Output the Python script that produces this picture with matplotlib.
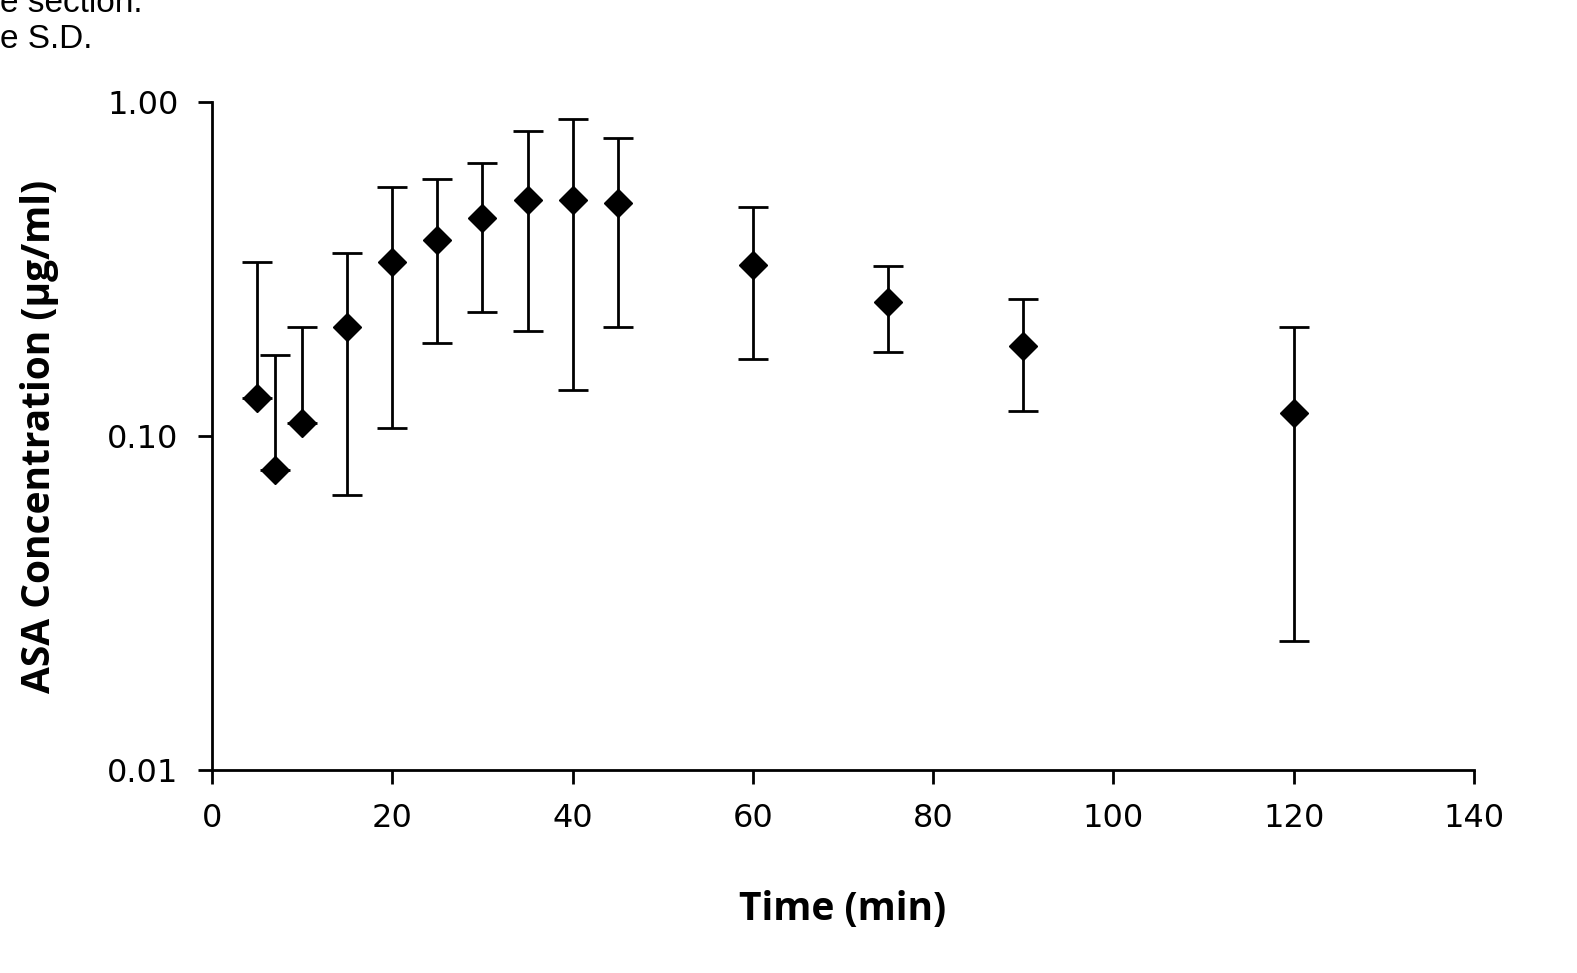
import matplotlib
matplotlib.use("Agg")
import matplotlib.pyplot as plt
import numpy as np

time = [5, 7, 10, 15, 20, 25, 30, 35, 40, 45, 60, 75, 90, 120]
conc = [0.130, 0.079, 0.109, 0.212, 0.332, 0.386, 0.450, 0.509, 0.509, 0.499, 0.325, 0.252, 0.186, 0.117]
upper = [0.332, 0.175, 0.212, 0.353, 0.557, 0.588, 0.657, 0.819, 0.889, 0.780, 0.485, 0.323, 0.257, 0.212]
lower = [None, None, None, 0.0666, 0.106, 0.190, 0.235, 0.206, 0.137, 0.212, 0.170, 0.178, 0.119, 0.0243]

c = np.array(conc)
err_hi = np.array(upper) - c
err_lo = np.array([v - l if l is not None else 0 for v, l in zip(conc, lower)])

fig = plt.figure(figsize=(15.77, 9.73), dpi=100)
ax = fig.add_axes([212 / 1577, 1 - 770 / 973, (1474 - 212) / 1577, (770 - 102) / 973])

ax.errorbar(time, conc, yerr=[err_lo, err_hi], fmt="D", color="black", ms=14,
            ecolor="black", elinewidth=2, capsize=11, capthick=2)

ax.set_yscale("log")
ax.set_ylim(0.01, 1.0)
ax.set_xlim(0, 140)
ax.set_xticks(range(0, 141, 20))
ax.set_yticks([0.01, 0.1, 1.0])
ax.set_yticklabels(["0.01", "0.10", "1.00"])
ax.minorticks_off()
for s in ["top", "right"]:
    ax.spines[s].set_visible(False)
for s in ["left", "bottom"]:
    ax.spines[s].set_linewidth(2)
ax.tick_params(width=2, length=10, labelsize=23, colors="black", pad=14)

ax.set_xlabel("Time (min)", fontsize=28, fontweight="bold", labelpad=40, family="Open Sans")
ax.set_ylabel("ASA Concentration (µg/ml)", fontsize=28, fontweight="bold", labelpad=35, family="Open Sans")

# partly cropped caption text at the top-left, as in the source image
fig.text(0.0, 1 - 40 / 973, "e S.D.", fontsize=24, va="center", ha="left", family="Liberation Sans")
fig.text(0.0, 1 - 4 / 973, "e section.", fontsize=24, va="center", ha="left", family="Liberation Sans")

fig.savefig("out.png", dpi=100)
